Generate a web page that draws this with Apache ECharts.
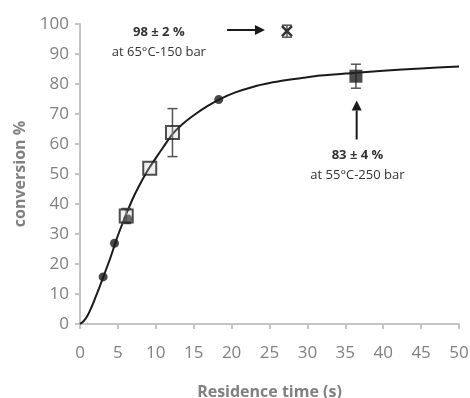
<!DOCTYPE html>
<html><head><meta charset="utf-8">
<script src="https://cdn.jsdelivr.net/npm/echarts@6/dist/echarts.min.js"></script>
<style>html,body{margin:0;padding:0;background:#fff}#c{width:470px;height:398px}</style>
</head><body><div id="c"></div>
<script>
// ---- data ----
var fitCurve = [[0,0],[0.5,1],[1,2.8],[1.5,5.5],[2,8.6],[2.5,11.8],[3,15.2],[4,22],[5,29.5],[6,36],[7,42],[8,47],[9,51.5],[10,55.3],[11,59],[12.2,63.3],[13.5,66.6],[15.2,69.9],[16.8,72.6],[18.4,74.9],[20.5,77.2],[22.9,79.1],[25,80.3],[27.3,81.3],[29.5,82.1],[31.7,82.8],[35.6,83.6],[40,84.4],[45,85.2],[50,85.8]];
var circlePts = [[3.05,15.7],[4.55,26.9],[18.3,74.8],[6.3,35]];
var openSquarePts = [[6.1,36],[9.2,51.9],[12.2,63.8]];
var filledSquarePts = [[36.4,82.6]];
var crossPts = [[27.3,97.6]];
// error bars: [x, y, minus/plus]
var errorBars = [[6.1,36,2.5],[12.2,63.8,8],[36.4,82.6,4],[27.3,97.6,2]];
// arrows: [x1,y1,x2,y2]
var arrows = [[19.4,98,24.4,98],[36.5,61.5,36.5,74.5]];
// annotation text: [x, y, text, bold]
var notes = [[10.4,97.3,'98 ± 2 %',1],[10.4,90.7,'at 65°C-150 bar',0],[36.6,56.3,'83 ± 4 %',1],[36.6,49.7,'at 55°C-250 bar',0]];
var xTicks = {min:0,max:50,interval:5};
var yTicks = {min:0,max:100,interval:10};

var FONT = 'Open Sans';
var chart = echarts.init(document.getElementById('c'), null, {renderer:'canvas'});
var axisGray = '#c4c4c4', labelGray = '#808080';
chart.setOption({
  animation:false,
  grid:{left:80,right:11,top:24,bottom:74,containLabel:false,outerBoundsMode:'none'},
  xAxis:{type:'value',min:xTicks.min,max:xTicks.max,interval:xTicks.interval,
    name:'Residence time (s)',nameLocation:'middle',nameGap:60,
    nameTextStyle:{fontFamily:FONT,fontWeight:'bold',fontSize:16,color:labelGray},
    axisLine:{lineStyle:{color:axisGray,width:2}},
    axisTick:{show:true,length:5,lineStyle:{color:axisGray,width:2}},
    axisLabel:{fontFamily:FONT,fontSize:17,color:labelGray,margin:21},
    splitLine:{show:false}},
  yAxis:{type:'value',min:yTicks.min,max:yTicks.max,interval:yTicks.interval,
    name:'conversion %',nameLocation:'middle',nameGap:52,
    nameTextStyle:{fontFamily:FONT,fontWeight:'bold',fontSize:16,color:labelGray},
    axisLine:{show:true,lineStyle:{color:axisGray,width:2}},
    axisTick:{show:true,length:5,lineStyle:{color:axisGray,width:2}},
    axisLabel:{fontFamily:FONT,fontSize:17,color:labelGray,margin:11},
    splitLine:{show:false}},
  series:[
    {type:'line',data:fitCurve,smooth:0.3,showSymbol:false,symbol:'none',
      lineStyle:{color:'#1a1a1a',width:2},z:2},
    {type:'custom',z:3,data:errorBars,renderItem:function(p,api){
      var x=api.value(0),y=api.value(1),e=api.value(2);
      var t=api.coord([x,y+e]),b=api.coord([x,y-e]),w=5;
      var st={stroke:'#555',lineWidth:1.5};
      return {type:'group',children:[
        {type:'line',shape:{x1:t[0],y1:t[1],x2:b[0],y2:b[1]},style:st},
        {type:'line',shape:{x1:t[0]-w,y1:t[1],x2:t[0]+w,y2:t[1]},style:st},
        {type:'line',shape:{x1:b[0]-w,y1:b[1],x2:b[0]+w,y2:b[1]},style:st}]};
    }},
    {type:'scatter',data:circlePts,symbol:'circle',symbolSize:9,itemStyle:{color:'#1a1a1a'},z:4},
    {type:'scatter',data:openSquarePts,symbol:'rect',symbolSize:13,
      itemStyle:{color:'rgba(200,200,200,0.35)',borderColor:'#222',borderWidth:2},z:5},
    {type:'scatter',data:filledSquarePts,symbol:'rect',symbolSize:13,itemStyle:{color:'#1f1f1f'},z:5},
    {type:'custom',z:5,data:crossPts,renderItem:function(p,api){
      var c=api.coord([api.value(0),api.value(1)]),s=5;
      var st={stroke:'#333',lineWidth:2.5};
      return {type:'group',children:[
        {type:'line',shape:{x1:c[0]-s,y1:c[1]-s,x2:c[0]+s,y2:c[1]+s},style:st},
        {type:'line',shape:{x1:c[0]-s,y1:c[1]+s,x2:c[0]+s,y2:c[1]-s},style:st}]};
    }},
    {type:'custom',z:6,data:arrows,renderItem:function(p,api){
      var a=api.coord([api.value(0),api.value(1)]),b=api.coord([api.value(2),api.value(3)]);
      var dx=b[0]-a[0],dy=b[1]-a[1],L=Math.sqrt(dx*dx+dy*dy),ux=dx/L,uy=dy/L;
      var hl=10,hw=5;
      var bx=b[0]-ux*hl,by=b[1]-uy*hl;
      return {type:'group',children:[
        {type:'line',shape:{x1:a[0],y1:a[1],x2:bx,y2:by},style:{stroke:'#1a1a1a',lineWidth:2}},
        {type:'polygon',shape:{points:[[b[0],b[1]],[bx-uy*hw,by+ux*hw],[bx+uy*hw,by-ux*hw]]},style:{fill:'#1a1a1a'}}]};
    }},
    {type:'custom',z:6,data:notes,renderItem:function(p,api){
      var d=notes[p.dataIndex];
      var c=api.coord([d[0],d[1]]);
      return {type:'text',x:c[0],y:c[1],style:{text:d[2],fontFamily:FONT,fontSize:13,
        fontWeight:d[3]?'bold':'normal',fill:'#333',align:'center',verticalAlign:'middle'}};
    }}
  ]
});
</script></body></html>
